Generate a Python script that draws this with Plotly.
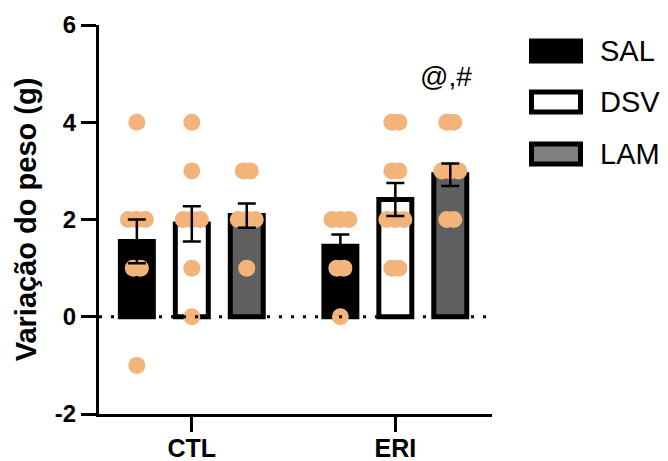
import plotly.graph_objects as go

# Groups and treatments
groups = ["CTL", "ERI"]
treatments = ["SAL", "DSV", "LAM"]

# Group means (g)
mean_sal = [1.55, 1.45]
mean_dsv = [1.91, 2.41]
mean_lam = [2.08, 2.92]

# Standard errors of the mean (g)
sem_sal = [0.45, 0.24]
sem_dsv = [0.36, 0.34]
sem_lam = [0.25, 0.23]

# Individual animals (g)
pts_ctl_sal = [4, 2, 2, 2, 1, 1, -1]
pts_ctl_dsv = [4, 3, 2, 2, 2, 1, 0]
pts_ctl_lam = [3, 3, 2, 2, 2, 1]
pts_eri_sal = [2, 2, 2, 1, 1, 0]
pts_eri_dsv = [4, 4, 3, 3, 2, 2, 2, 1, 1]
pts_eri_lam = [4, 4, 3, 3, 3, 2, 2]

y_ticks = [-2, 0, 2, 4, 6]
y_tick_text = ["-2", "0", "2", "4", "6"]
significance = "@,#"

means = {"SAL": mean_sal, "DSV": mean_dsv, "LAM": mean_lam}
sems = {"SAL": sem_sal, "DSV": sem_dsv, "LAM": sem_lam}
points = {
    ("CTL", "SAL"): pts_ctl_sal, ("CTL", "DSV"): pts_ctl_dsv, ("CTL", "LAM"): pts_ctl_lam,
    ("ERI", "SAL"): pts_eri_sal, ("ERI", "DSV"): pts_eri_dsv, ("ERI", "LAM"): pts_eri_lam,
}

fills = {"SAL": "#000000", "DSV": "#FFFFFF", "LAM": "#5F5F5F"}
swatch_fills = {"SAL": "#000000", "DSV": "#FFFFFF", "LAM": "#808080"}
dot_color = "#F3B47B"

W, H = 668, 461
M = dict(l=99, r=176, t=25, b=47)
x_range = [-0.456, 1.475]
px_per_unit = (W - M["l"] - M["r"]) / (x_range[1] - x_range[0])

slot = 0.27          # distance between bars inside a group
bar_w = 0.162        # bar width (axis units)
swarm_step = 7.0 / px_per_unit

FONT = "Liberation Sans, Arial, sans-serif"

fig = go.Figure()

# Bars
for j, t in enumerate(treatments):
    xs = [g + (j - 1) * slot for g in range(len(groups))]
    fig.add_trace(go.Bar(
        x=xs, y=means[t], width=bar_w,
        marker=dict(color=fills[t], line=dict(color="black", width=5)),
        showlegend=False, hoverinfo="skip",
    ))

# Individual points, spread sideways where values coincide
dx, dy = [], []
for gi, g in enumerate(groups):
    for j, t in enumerate(treatments):
        center = gi + (j - 1) * slot
        vals = points[(g, t)]
        for v in sorted(set(vals), reverse=True):
            n = vals.count(v)
            step = swarm_step * (8.5 / 7.0 if n > 2 else 1.0)
            for k in range(n):
                dx.append(center + (k - (n - 1) / 2) * step)
                dy.append(v)
fig.add_trace(go.Scatter(
    x=dx, y=dy, mode="markers",
    marker=dict(size=17, color=dot_color, line=dict(width=0)),
    showlegend=False, hoverinfo="skip",
))

# Error bars (mean ± SEM) on top of points
for j, t in enumerate(treatments):
    xs = [g + (j - 1) * slot for g in range(len(groups))]
    fig.add_trace(go.Scatter(
        x=xs, y=means[t], mode="markers",
        marker=dict(size=1, color="rgba(0,0,0,0)"),
        error_y=dict(type="data", array=sems[t], color="black", thickness=2.5, width=9),
        showlegend=False, hoverinfo="skip",
    ))

# Dotted reference at zero
fig.add_shape(type="line", xref="paper", x0=0, x1=1, yref="y", y0=0, y1=0,
              line=dict(color="black", width=3, dash="3px,9px"), layer="above")

# Significance mark over ERI / LAM
fig.add_annotation(x=1 + slot - 0.02, y=4.95, text=significance, showarrow=False,
                   font=dict(family=FONT, size=28, color="black"),
                   xanchor="center", yanchor="middle")

# Legend drawn as swatches + labels
plot_w = W - M["l"] - M["r"]
plot_h = H - M["t"] - M["b"]
def px_x(p):
    return (p - M["l"]) / plot_w
def px_y(p):
    return (H - M["b"] - p) / plot_h

legend_rows = [51, 102, 154]
for t, yc in zip(treatments, legend_rows):
    fig.add_shape(type="rect", xref="paper", yref="paper",
                  x0=px_x(531.5), x1=px_x(580.5), y0=px_y(yc - 10), y1=px_y(yc + 10),
                  fillcolor=swatch_fills[t], line=dict(color="black", width=5))
    fig.add_annotation(xref="paper", yref="paper", x=px_x(598), y=px_y(yc),
                       text=t, showarrow=False, xanchor="left", yanchor="middle",
                       font=dict(family=FONT, size=29, color="black"))

fig.update_layout(
    width=W, height=H, margin=M,
    paper_bgcolor="white", plot_bgcolor="white",
    barmode="overlay", showlegend=False,
    font=dict(family=FONT, color="black"),
)
fig.update_xaxes(
    range=x_range, tickvals=list(range(len(groups))), ticktext=groups,
    showline=True, linecolor="black", linewidth=3,
    ticks="outside", ticklen=15, tickwidth=3, tickcolor="black",
    tickfont=dict(family=FONT, size=25, color="black", weight=700),
    ticklabelstandoff=-5,
    showgrid=False, zeroline=False, automargin=False,
)
fig.update_yaxes(
    range=[-2, 6], tickvals=y_ticks, ticktext=y_tick_text,
    showline=True, linecolor="black", linewidth=3,
    ticks="outside", ticklen=15, tickwidth=3, tickcolor="black",
    tickfont=dict(family=FONT, size=24, color="black", weight=700),
    showgrid=False, zeroline=False, automargin=False,
    title=dict(text="Variação do peso (g)", standoff=10,
               font=dict(family=FONT, size=29, color="black", weight=700)),
)

fig.write_html("out.html")
